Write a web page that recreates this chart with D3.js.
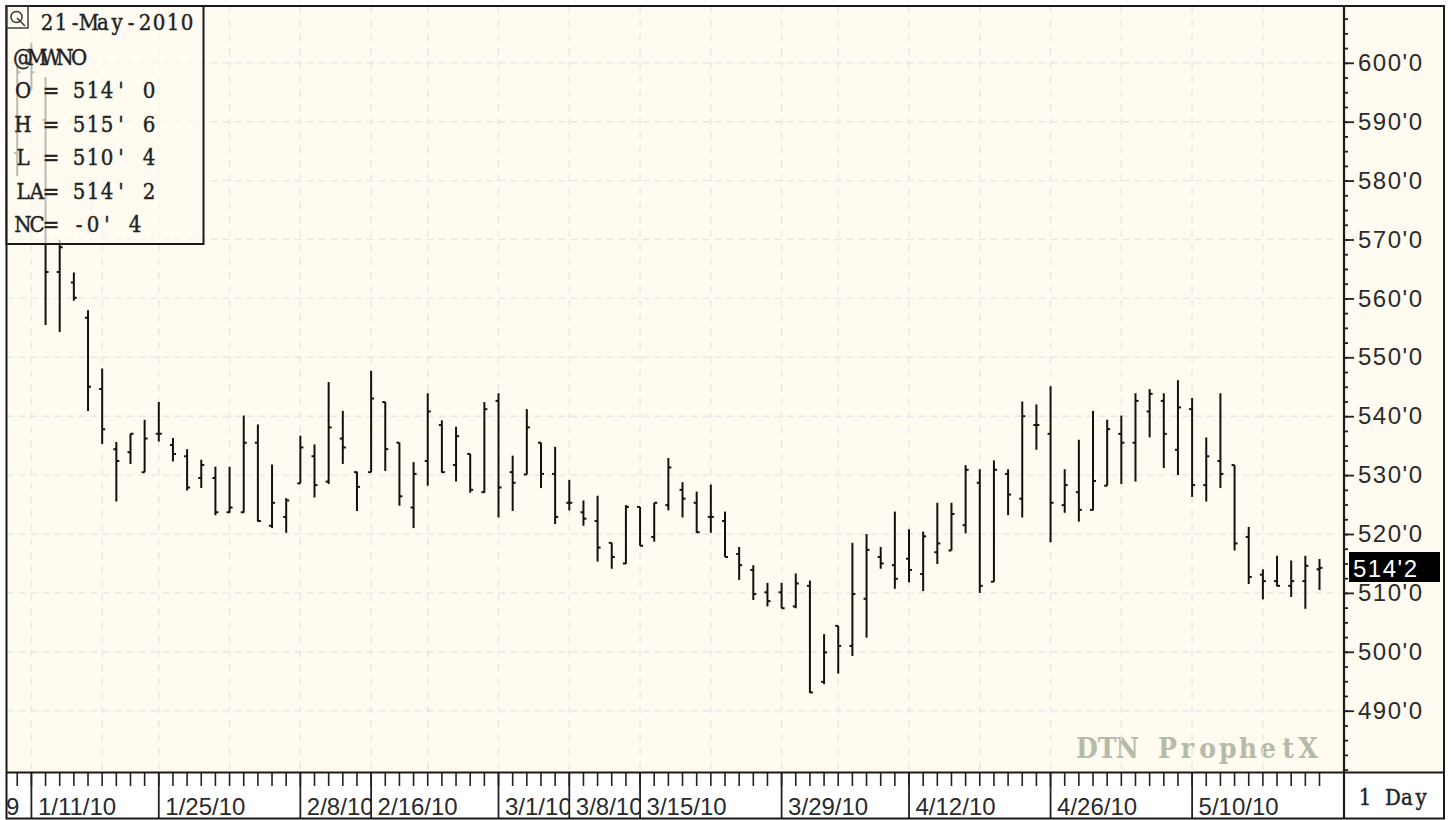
<!DOCTYPE html>
<html lang="en">
<head>
    <meta charset="UTF-8">
    <title>@MWNO Daily Bars</title>
    <script src="https://cdnjs.cloudflare.com/ajax/libs/d3/7.8.5/d3.min.js"></script>
    <style>
        body { margin: 0; background: #fff; overflow: hidden; }
        svg { display: block; }
        .sans { font-family: "Liberation Sans", Arial, sans-serif; fill: #2a2a2a; }
        .mono { font-family: "DejaVu Serif Condensed", "DejaVu Serif", serif; fill: #222; stroke: #222; stroke-width: 0.4; text-anchor: middle; white-space: pre; }
    </style>
</head>
<body>
    <div id="chart"></div>

    <script>
        // Bars are numbered by trading session, 0 = 1/11/10, so -1 is the session before it
        const firstIndex = -1;
        const opens = [584.7, 600.5, 590.3, 564.5, 562.7, 556.7, 544.6, 534.4, 533.9, 530.5, 537, 535.1, 533.2, 529.5, 529.5, 523.7, 523.7, 535.5, 521.4, 522.9,
            528.6, 533.2, 528.9, 536.2, 530.5, 530.5, 542.4, 535.5, 524.5, 532.4, 538.5, 531.7, 533.6, 527.1, 542.6, 530.5, 530.1, 535.5, 530.2, 525.3,
            523.7, 522.2, 518.5, 515, 524.6, 519.5, 524.9, 527.5, 525.3, 522.9, 522.2, 516.6, 513.9, 510.1, 510.1, 507.7, 511.2, 494.9, 504.4, 501,
            509, 516.1, 514.7, 515.8, 513.2, 516.9, 517.2, 521.5, 528.7, 511.9, 530.2, 526, 538.5, 537, 524.9, 527.1, 524.1, 528.2, 537, 535.5,
            540.8, 542.6, 534.3, 541.2, 528.3, 532.4, 531.7, 519.5, 513.1, 512, 511.2, 512, 514];
        const highs = [599.6, 603.4, 597.6, 569.9, 564.4, 558, 548.1, 535.6, 537, 539.4, 542.4, 536.3, 534.4, 532.6, 531.4, 531.4, 540.1, 538.6, 531.8, 526.1,
            536.7, 535.2, 545.8, 540.9, 530.6, 547.7, 542.4, 535.5, 532.2, 543.9, 539.3, 538.2, 533.6, 542.4, 543.9, 533.3, 541.2, 535.5, 534.8, 529.2,
            525.7, 526.5, 518.5, 524.9, 524.6, 525.3, 532.9, 528.8, 527.2, 528.4, 523.8, 517.8, 514.7, 511.7, 511.7, 513.3, 512.1, 503, 504.4, 518.5,
            520, 517.8, 523.8, 520.8, 520.4, 525.3, 525.3, 531.7, 531, 532.5, 531, 542.5, 542, 545.1, 531, 536, 540.9, 539.4, 540.1, 543.9,
            544.6, 543.9, 546.1, 543.1, 536.4, 543.9, 531.7, 521.2, 514, 516.3, 515.5, 516.3, 515.75];
        const lows = [580.8, 595.4, 555.5, 554.3, 559.6, 540.9, 535.3, 525.5, 531.9, 530.5, 535.7, 532.3, 527.4, 527.8, 523.2, 523.6, 523.6, 522.1, 521, 520.2,
            528.6, 526.2, 528.5, 531.9, 523.9, 530.5, 530.7, 524.8, 521, 528.2, 530.4, 528.9, 527, 527, 522.8, 523.9, 530.1, 527.8, 521.7, 524,
            521.4, 515.3, 514.1, 514.9, 518, 518.7, 524, 522.8, 520.2, 520.2, 516.1, 512.2, 508.8, 507.7, 507.4, 507.4, 493, 494.5, 496.3, 499.3,
            502.4, 514.1, 510.7, 511.8, 510.3, 514.9, 517.2, 520.1, 510, 511.9, 523.2, 522.8, 534.3, 518.6, 523.6, 522.1, 524, 528.2, 528.5, 528.9,
            536.4, 531.2, 530, 526.3, 525.5, 527.8, 517.2, 511.5, 508.9, 511.1, 509.3, 507.3, 510.5];
        const closes = [598.4, 598.4, 564.5, 568.7, 560.1, 545, 537.8, 532.4, 537, 536.2, 537, 533.6, 527.9, 531.7, 523.7, 524.5, 535.5, 522.2, 525.3, 525.7,
            534.7, 528.3, 538.1, 534.7, 528, 543, 534.4, 526.4, 530.2, 540.8, 530.5, 536.6, 527.5, 541.2, 527.9, 528.7, 538.1, 530.2, 522.9, 525.3,
            522.6, 517.7, 516.1, 524.6, 518, 525.3, 531.3, 526, 520.3, 522.9, 516.1, 514.7, 509.8, 508.6, 507.4, 511.6, 493.1, 499.9, 501, 509.8,
            517.3, 515, 512.4, 513.9, 519.6, 518.4, 523.4, 530.9, 511.2, 530.9, 526.7, 540, 538.5, 525.3, 528.3, 524.1, 529, 537.8, 535.5, 542.6,
            543.8, 537, 541.5, 528.3, 533.2, 530.2, 518.4, 512.7, 512, 511.2, 512, 514.6, 514.25];

        const dateLabels = ["1/11/10", "1/25/10", "2/8/10", "2/16/10", "3/1/10", "3/8/10", "3/15/10", "3/29/10", "4/12/10", "4/26/10", "5/10/10"];
        const dateIndex = [0, 9, 19, 24, 33, 38, 43, 53, 62, 72, 82];
        const gridIndex = [0, 5, 9, 14, 19, 24, 28, 33, 38, 43, 48, 53, 57, 62, 67, 72, 77, 82, 87];
        const priceTicks = [490, 500, 510, 520, 530, 540, 550, 560, 570, 580, 590, 600];
        const infoLines = ["@MWNO", "O = 514' 0", "H = 515' 6", "L = 510' 4", "LA= 514' 2", "NC= -0' 4"];

        const width = 1452;
        const height = 820;
        const plotLeft = 6.5, plotRight = 1344, plotTop = 6, axisTop = 772.5, plotBottom = 818.5, plotEdge = 1444;
        const paper = "#fffbf0";

        const svg = d3.select("#chart").append("svg")
            .attr("width", width)
            .attr("height", height);

        const x = d3.scaleLinear().domain([0, 91]).range([31.4, 1319.5]);
        const y = d3.scaleLinear().domain([490, 600]).range([710.7, 62.8]);

        // Background panels
        svg.append("rect").attr("x", plotLeft).attr("y", plotTop).attr("width", plotEdge - plotLeft).attr("height", axisTop - plotTop).attr("fill", paper);

        svg.append("clipPath").attr("id", "frame").append("rect")
            .attr("x", plotLeft).attr("y", plotTop).attr("width", plotEdge - plotLeft).attr("height", plotBottom - plotTop);

        // Spaced glyphs, the platform font for this chart is a fixed pitch slab
        function fixedText(parent, str, cx, baseline, pitch, size) {
            return parent.append("text")
                .attr("class", "mono")
                .attr("x", Array.from(str, (c, i) => cx + i * pitch).join(" "))
                .attr("y", baseline)
                .attr("font-size", size)
                .text(str);
        }

        // Watermark
        fixedText(svg, "DTN ProphetX", 1087, 758, 20.1, 28)
            .attr("font-weight", "bold")
            .style("fill", "#b6baa9")
            .style("stroke", "none");

        // Grid
        const grid = svg.append("g").attr("stroke", "#e7e7e6").attr("stroke-width", 1.4);
        grid.selectAll("line.h").data(priceTicks).join("line")
            .attr("class", "h")
            .attr("x1", plotLeft).attr("x2", plotRight - 4)
            .attr("y1", d => y(d)).attr("y2", d => y(d))
            .attr("stroke-dasharray", "7 5");
        grid.selectAll("line.v").data(gridIndex).join("line")
            .attr("class", "v")
            .attr("x1", d => x(d)).attr("x2", d => x(d))
            .attr("y1", plotTop).attr("y2", axisTop)
            .attr("stroke-dasharray", "7 7");

        // OHLC bars
        const bars = svg.append("g").attr("clip-path", "url(#frame)").attr("stroke", "#111").attr("stroke-width", 2);
        highs.forEach((hi, i) => {
            const cx = x(firstIndex + i);
            const g = bars.append("g");
            g.append("line").attr("x1", cx).attr("x2", cx).attr("y1", y(hi)).attr("y2", y(lows[i]));
            g.append("line").attr("x1", cx - 3).attr("x2", cx).attr("y1", y(opens[i])).attr("y2", y(opens[i]));
            g.append("line").attr("x1", cx).attr("x2", cx + 3).attr("y1", y(closes[i])).attr("y2", y(closes[i]));
        });

        // Date axis
        const dateAxis = svg.append("g").attr("clip-path", "url(#frame)").attr("stroke", "#222");
        const allIndex = d3.range(firstIndex, 92);
        dateAxis.selectAll("line.minor").data(allIndex).join("line")
            .attr("class", "minor")
            .attr("x1", d => x(d)).attr("x2", d => x(d))
            .attr("y1", axisTop).attr("y2", 786)
            .attr("stroke-width", 1.6);
        dateAxis.selectAll("line.major").data(dateIndex).join("line")
            .attr("class", "major")
            .attr("x1", d => x(d)).attr("x2", d => x(d))
            .attr("y1", axisTop).attr("y2", plotBottom)
            .attr("stroke-width", 1.8);

        // The label before 1/11/10 only shows its last digit at the left edge
        svg.append("text")
            .attr("class", "sans")
            .attr("x", 6)
            .attr("y", 815)
            .attr("font-size", 24)
            .text("9");

        dateLabels.forEach((label, i) => {
            const startX = x(dateIndex[i]);
            const endX = i < dateLabels.length - 1 ? x(dateIndex[i + 1]) : plotRight;
            const clipId = "date" + i;
            svg.append("clipPath").attr("id", clipId).append("rect")
                .attr("x", startX).attr("y", axisTop)
                .attr("width", endX - startX).attr("height", plotBottom - axisTop);
            svg.append("text")
                .attr("class", "sans")
                .attr("clip-path", `url(#${clipId})`)
                .attr("x", startX + 6.5)
                .attr("y", 815)
                .attr("font-size", 24)
                .text(label);
        });

        // Price axis, minor ticks every 2.5 then labelled ticks every 10
        const minorTicks = d3.range(480, 612.5, 2.5).filter(v => y(v) > plotTop && y(v) < axisTop);
        svg.append("g").attr("transform", `translate(${plotRight},0)`)
            .call(d3.axisRight(y).tickValues(minorTicks).tickSize(4).tickFormat(""))
            .call(g => g.select(".domain").remove())
            .selectAll("line").attr("stroke", "#222").attr("stroke-width", 1.8);

        const priceAxis = svg.append("g").attr("transform", `translate(${plotRight},0)`)
            .call(d3.axisRight(y).tickValues(priceTicks).tickSize(10).tickPadding(4).tickFormat(d => d + "'0"))
            .call(g => g.select(".domain").remove());
        priceAxis.selectAll("line").attr("stroke", "#222").attr("stroke-width", 1.8);
        priceAxis.selectAll("text")
            .attr("class", "sans")
            .attr("font-size", 24)
            .attr("letter-spacing", 1.5)
            .attr("fill", "#2a2a2a");
        priceAxis.attr("font-family", null).attr("font-size", null);

        // Last price flag
        svg.append("rect").attr("x", 1349).attr("y", 552).attr("width", 91).attr("height", 30).attr("fill", "#000");
        svg.append("text")
            .attr("class", "sans")
            .attr("x", 1353).attr("y", 577)
            .attr("font-size", 24)
            .attr("letter-spacing", 1.5)
            .style("fill", "#fff")
            .text("514'2");

        // Frame lines
        const frame = svg.append("g").attr("stroke", "#1a1a1a").attr("fill", "none");
        frame.append("rect").attr("x", plotLeft).attr("y", plotTop).attr("width", plotEdge - plotLeft).attr("height", plotBottom - plotTop).attr("stroke-width", 2);
        frame.append("line").attr("x1", plotLeft).attr("x2", plotEdge).attr("y1", axisTop).attr("y2", axisTop).attr("stroke-width", 2);
        frame.append("line").attr("x1", plotRight).attr("x2", plotRight).attr("y1", plotTop).attr("y2", plotBottom).attr("stroke-width", 2.2);

        fixedText(svg, "1 Day", 1365, 805, 14, 22);

        // Info box, lets the first bars show through faintly
        svg.append("rect")
            .attr("x", plotLeft).attr("y", plotTop).attr("width", 197).attr("height", 238)
            .attr("fill", paper).attr("fill-opacity", 0.72)
            .attr("stroke", "#1a1a1a").attr("stroke-width", 2);

        const qIcon = svg.append("g").attr("fill", "none").attr("stroke", "#333").attr("stroke-width", 1.4);
        qIcon.append("rect").attr("x", plotLeft).attr("y", plotTop).attr("width", 21.5).attr("height", 22);
        qIcon.append("circle").attr("cx", 16.5).attr("cy", 17).attr("r", 5.5);
        qIcon.append("line").attr("x1", 17).attr("y1", 18).attr("x2", 25).attr("y2", 26);

        fixedText(svg, "21-May-2010", 47, 30, 14, 22);
        infoLines.forEach((line, i) => {
            fixedText(svg, line, 23, 65 + i * 33.4, 14, 22);
        });
    </script>
</body>
</html>
